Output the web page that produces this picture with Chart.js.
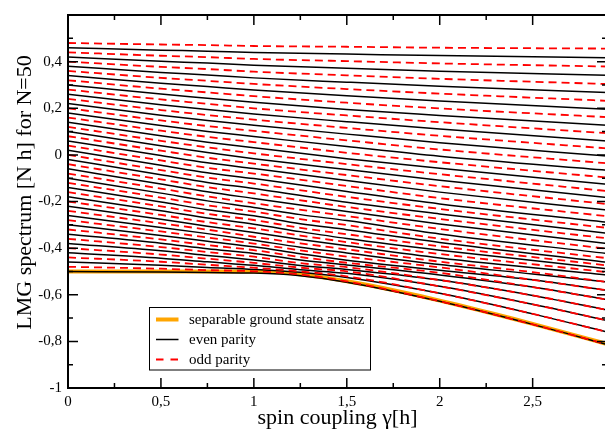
<!DOCTYPE html>
<html lang="en">
<head>
<meta charset="utf-8">
<title>LMG spectrum for N=50</title>
<style>
  html, body { margin: 0; padding: 0; background: #ffffff; overflow: hidden; }
  #frame { position: relative; width: 612px; height: 433px; }
  canvas { display: block; }
</style>
<script src="https://cdn.jsdelivr.net/npm/chart.js@4.4.1/dist/chart.umd.min.js"></script>
</head>
<body>
<div id="frame"><canvas id="spectrum" width="612" height="433"></canvas></div>
<script>
// Spin coupling values (gamma, in units of h) at which the levels are tabulated
const couplings = [0, 0.5, 0.75, 1, 1.25, 1.5, 2, 2.5, 2.9];

// Even-parity levels, lowest first, energies in units of N h (null: no entry at that coupling)
const evenParityLevels = [
  [-0.5, -0.5028, -0.505, -0.507, -0.518, -0.546, -0.628, -0.727, -0.813],
  [-0.46, -0.4735, -0.4832, -0.4914, -0.504, -0.526, -0.594, -0.682, -0.7595],
  [-0.42, -0.4431, -0.4588, -0.4737, -0.4928, -0.508, -0.564, -0.641, -0.71],
  [-0.38, -0.4116, -0.4312, -0.451, -0.4745, -0.4915, -0.537, -0.603, -0.665],
  [-0.34, -0.3792, -0.4028, -0.4227, -0.4512, -0.4723, -0.515, -0.567, -0.621],
  [-0.3, -0.3457, -0.3708, -0.3944, -0.4242, -0.4519, -0.495, -0.536, -0.581],
  [-0.26, -0.3112, -0.3378, -0.3662, -0.3961, -0.4208, -0.4702, -0.511, -0.545],
  [-0.22, -0.2758, -0.3063, -0.3332, -0.3627, -0.3898, -0.4419, null, -0.515],
  [-0.18, -0.2395, -0.2711, -0.2973, -0.3292, -0.3588, -0.4089, null, -0.488],
  [-0.14, -0.2022, -0.2349, -0.2614, -0.2951, -0.3208, -0.3759, null, -0.461],
  [-0.1, -0.1641, -0.1973, -0.2255, -0.2563, -0.2818, -0.339, null, -0.423],
  [-0.06, -0.1251, -0.1583, -0.1869, null, -0.2428, -0.2961, null, -0.38],
  [-0.02, -0.0852, -0.1181, -0.1442, null, -0.2036, -0.2532, null, -0.336],
  [0.02, -0.0446, -0.0766, -0.1016, null, -0.1568, -0.2103, null, -0.289],
  [0.06, -0.0031, -0.034, -0.0589, null, -0.11, -0.1598, null, -0.237],
  [0.1, 0.0391, 0.0098, -0.0163, null, -0.0632, -0.1086, null, -0.183],
  [0.14, 0.082, 0.0546, 0.0306, null, -0.0163, -0.0573, null, -0.126],
  [0.18, 0.1257, 0.1004, 0.0788, null, 0.0356, -0.006, null, -0.066],
  [0.22, 0.17, 0.1472, 0.127, null, 0.089, 0.0525, null, -0.005],
  [0.26, 0.215, 0.1949, 0.1752, null, 0.1424, 0.111, null, 0.06],
  [0.3, 0.2607, 0.2434, 0.2258, null, 0.1944, 0.1694, null, 0.127],
  [0.34, 0.307, 0.2928, 0.2781, null, 0.2531, 0.2309, null, 0.196],
  [0.38, 0.3538, 0.3428, 0.3303, null, 0.3118, 0.2945, null, 0.268],
  [0.42, 0.4013, 0.3936, 0.3842, null, 0.3715, 0.3589, null, 0.342],
  [0.46, 0.4493, 0.445, 0.439, null, 0.4325, 0.4258, null, 0.417]
];

// Odd-parity levels, lowest first, same units
const oddParityLevels = [
  [-0.48, -0.4883, -0.4945, -0.4993, -0.513, -0.543, -0.628, -0.727, -0.813],
  [-0.44, -0.4584, -0.4715, -0.484, -0.5, -0.521, -0.594, -0.682, -0.7595],
  [-0.4, -0.4275, -0.4453, -0.4633, -0.4838, -0.5, -0.564, -0.641, -0.71],
  [-0.36, -0.3955, -0.4168, -0.4369, -0.4645, -0.4819, -0.537, -0.603, -0.665],
  [-0.32, -0.3626, -0.387, -0.4086, -0.438, -0.4627, -0.506, -0.567, -0.621],
  [-0.28, -0.3286, -0.3544, -0.3803, -0.4096, -0.4363, -0.4825, -0.536, -0.581],
  [-0.24, -0.2936, -0.3208, -0.3512, -0.3795, -0.4053, -0.4579, -0.503, -0.545],
  [-0.2, -0.2578, -0.2887, -0.3153, -0.346, -0.3743, -0.4254, null, -0.503],
  [-0.16, -0.2209, -0.2532, -0.2794, -0.3132, -0.3403, -0.3924, null, -0.474],
  [-0.12, -0.1832, -0.2163, -0.2435, -0.2757, -0.3013, -0.3594, null, -0.443],
  [-0.08, -0.1447, -0.178, -0.2076, null, -0.2623, -0.3176, null, -0.403],
  [-0.04, -0.1052, -0.1384, -0.1655, null, -0.2233, -0.2747, null, -0.358],
  [0, -0.065, -0.0975, -0.1229, null, -0.1802, -0.2318, null, -0.313],
  [0.04, -0.024, -0.0555, -0.0802, null, -0.1334, -0.1855, null, -0.263],
  [0.08, 0.0179, -0.0122, -0.0376, null, -0.0866, -0.1342, null, -0.211],
  [0.12, 0.0604, 0.0321, 0.0065, null, -0.0397, -0.0829, null, -0.155],
  [0.16, 0.1037, 0.0774, 0.0547, null, 0.0089, -0.0316, null, -0.097],
  [0.2, 0.1478, 0.1237, 0.1029, null, 0.0623, 0.0232, null, -0.036],
  [0.24, 0.1924, 0.1709, 0.1511, null, 0.1157, 0.0817, null, 0.028],
  [0.28, 0.2378, 0.2191, 0.1997, null, 0.1691, 0.1402, null, 0.093],
  [0.32, 0.2838, 0.268, 0.2519, null, 0.2237, 0.1991, null, 0.162],
  [0.36, 0.3303, 0.3177, 0.3042, null, 0.2824, 0.2627, null, 0.232],
  [0.4, 0.3775, 0.3681, 0.3568, null, 0.3412, 0.3263, null, 0.304],
  [0.44, 0.4252, 0.4192, 0.4116, null, 0.4021, 0.3923, null, 0.379],
  [0.48, 0.4735, 0.4709, 0.467, null, 0.4637, 0.4597, null, 0.456]
];

// Separable (mean-field) ground state energy
const ansatzCoupling = [0, 0.5, 1, 1.1, 1.2, 1.3, 1.4, 1.5, 1.6, 1.7, 1.8, 1.9, 2, 2.1, 2.2, 2.3, 2.4, 2.5, 2.6, 2.7, 2.8, 2.9];
const ansatzEnergy = [-0.5, -0.5, -0.5, -0.5023, -0.5083, -0.5173, -0.5286, -0.5417, -0.5563, -0.5721, -0.5889, -0.6066,
  -0.625, -0.6441, -0.6636, -0.6837, -0.7042, -0.725, -0.7462, -0.7676, -0.7893, -0.8112];

// Axis tick labels (decimal comma)
const xMajorTicks = [0, 0.5, 1, 1.5, 2, 2.5];
const xTickLabels = ['0', '0,5', '1', '1,5', '2', '2,5'];
const yMajorTicks = [-1, -0.8, -0.6, -0.4, -0.2, 0, 0.2, 0.4];
const yTickLabels = ['-1', '-0,8', '-0,6', '-0,4', '-0,2', '0', '0,2', '0,4'];

const SERIF = "'Liberation Serif', 'Times New Roman', serif";
const INK = '#000000';
const EVEN_COLOR = '#000000';
const ODD_COLOR = '#ff0000';
const ANSATZ_COLOR = '#ffa500';

const isMultiple = (v, step) => Math.abs(v / step - Math.round(v / step)) < 1e-6;
const labelFor = (v, ticks, labels) => {
  const i = ticks.findIndex(t => Math.abs(t - v) < 1e-6);
  return i < 0 ? '' : labels[i];
};
const toPoints = level => couplings.map((g, i) => ({ x: g, y: level[i] }));

const lineDefaults = {
  pointRadius: 0,
  pointHoverRadius: 0,
  fill: false,
  spanGaps: true,
  cubicInterpolationMode: 'monotone'
};

const datasets = [];
oddParityLevels.forEach(level => datasets.push(Object.assign({
  label: 'odd parity', data: toPoints(level),
  borderColor: ODD_COLOR, borderWidth: 1.8, borderDash: [8, 5], order: 1
}, lineDefaults)));
evenParityLevels.forEach(level => datasets.push(Object.assign({
  label: 'even parity', data: toPoints(level),
  borderColor: EVEN_COLOR, borderWidth: 1.5, order: 2
}, lineDefaults)));
datasets.push(Object.assign({
  label: 'separable ground state ansatz',
  data: ansatzCoupling.map((g, i) => ({ x: g, y: ansatzEnergy[i] })),
  borderColor: ANSATZ_COLOR, borderWidth: 4, order: 3
}, lineDefaults));

// Inward major/minor ticks on all four sides, plus the frame
const axisFrame = {
  id: 'axisFrame',
  afterDatasetsDraw(chart) {
    const { ctx, chartArea: a, scales: { x, y } } = chart;
    ctx.save();
    ctx.strokeStyle = INK;
    ctx.lineWidth = 1.5;
    ctx.beginPath();
    x.ticks.forEach(t => {
      if (!isMultiple(t.value, 0.25)) return;
      const len = isMultiple(t.value, 0.5) ? 10 : 5;
      const px = x.getPixelForValue(t.value);
      ctx.moveTo(px, a.bottom); ctx.lineTo(px, a.bottom - len);
      ctx.moveTo(px, a.top); ctx.lineTo(px, a.top + len);
    });
    y.ticks.forEach(t => {
      if (!isMultiple(t.value, 0.1)) return;
      const len = isMultiple(t.value, 0.2) ? 10 : 5;
      const py = y.getPixelForValue(t.value);
      ctx.moveTo(a.left, py); ctx.lineTo(a.left + len, py);
      ctx.moveTo(a.right, py); ctx.lineTo(a.right - len, py);
    });
    ctx.stroke();
    ctx.lineWidth = 2;
    ctx.strokeRect(a.left, a.top, a.right - a.left, a.bottom - a.top);
    ctx.restore();
  }
};

// Axis titles and the boxed legend
const legendEntries = [
  { text: 'separable ground state ansatz', color: ANSATZ_COLOR, width: 4, dash: [] },
  { text: 'even parity', color: EVEN_COLOR, width: 1.5, dash: [] },
  { text: 'odd parity', color: ODD_COLOR, width: 1.8, dash: [7.5, 7] }
];

const annotations = {
  id: 'annotations',
  afterDraw(chart) {
    const { ctx, chartArea: a } = chart;
    ctx.save();
    ctx.fillStyle = INK;
    ctx.font = '22px ' + SERIF;
    ctx.textAlign = 'center';
    ctx.textBaseline = 'alphabetic';
    ctx.fillText('spin coupling \u03b3[h]', (a.left + a.right) / 2, 424);
    ctx.save();
    ctx.translate(31, 192.5);
    ctx.rotate(-Math.PI / 2);
    ctx.fillText('LMG spectrum [N h] for N=50', 0, 0);
    ctx.restore();

    const box = { left: 149.5, top: 307.5, width: 221, height: 62.5 };
    ctx.fillStyle = '#ffffff';
    ctx.fillRect(box.left, box.top, box.width, box.height);
    ctx.strokeStyle = INK;
    ctx.lineWidth = 1;
    ctx.strokeRect(box.left, box.top, box.width, box.height);
    ctx.font = '15px ' + SERIF;
    ctx.textAlign = 'left';
    legendEntries.forEach((e, i) => {
      const yRow = 319.5 + 20 * i;
      ctx.beginPath();
      ctx.setLineDash(e.dash);
      ctx.strokeStyle = e.color;
      ctx.lineWidth = e.width;
      ctx.moveTo(156, yRow);
      ctx.lineTo(178.5, yRow);
      ctx.stroke();
      ctx.setLineDash([]);
      ctx.fillStyle = INK;
      ctx.fillText(e.text, 189, yRow + 4);
    });
    ctx.restore();
  }
};

new Chart(document.getElementById('spectrum'), {
  type: 'line',
  data: { datasets },
  options: {
    responsive: false,
    animation: false,
    devicePixelRatio: 1,
    events: [],
    layout: { padding: { left: 0, top: 11, right: 4.6, bottom: 0 } },
    plugins: { legend: { display: false }, tooltip: { enabled: false } },
    scales: {
      x: {
        type: 'linear',
        min: 0,
        max: 2.9,
        afterFit: s => { s.height = 45; },
        grid: { display: false, drawTicks: false },
        border: { display: false },
        ticks: {
          stepSize: 0.25,
          autoSkip: false,
          maxRotation: 0,
          padding: 5,
          color: INK,
          font: { family: SERIF, size: 15 },
          callback: v => labelFor(v, xMajorTicks, xTickLabels)
        }
      },
      y: {
        type: 'linear',
        min: -1,
        max: 0.6,
        afterFit: s => { s.width = 68; },
        grid: { display: false, drawTicks: false },
        border: { display: false },
        ticks: {
          stepSize: 0.1,
          autoSkip: false,
          padding: 6,
          color: INK,
          font: { family: SERIF, size: 15 },
          callback: v => labelFor(v, yMajorTicks, yTickLabels)
        }
      }
    }
  },
  plugins: [axisFrame, annotations]
});
</script>
</body>
</html>
